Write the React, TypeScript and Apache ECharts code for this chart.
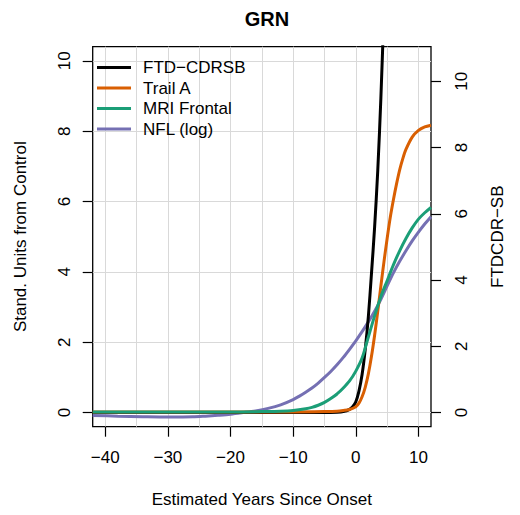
import React, { useEffect, useRef } from "react";
import * as echarts from "echarts";

const FONT = "'Liberation Sans', Arial, Helvetica, sans-serif";

const titleText = "GRN";
const xTitle = "Estimated Years Since Onset";
const yLeftTitle = "Stand. Units from Control";
const yRightTitle = "FTDCDR\u2212SB";

const xTicks = [-40, -30, -20, -10, 0, 10];
const xGridValues = [-40, -35, -30, -25, -20, -15, -10, -5, 0, 5, 10];
const yTicks = [0, 2, 4, 6, 8, 10];

const seriesNames = ["FTD\u2212CDRSB", "Trail A", "MRI Frontal", "NFL (log)"];
const seriesColors = ["#000000", "#D95F02", "#1B9E77", "#7570B3"];

// FTD-CDRSB (right axis)
const cdrX = [-42, -30, -20, -10, -5, -3, -2, -1, -0.5, 0, 0.5, 1, 1.5, 2, 2.5, 3, 3.5, 4, 4.5];
const cdrY = [0, 0, 0, 0, 0.005, 0.01, 0.03, 0.1, 0.18, 0.33, 0.65, 1.15, 1.9, 2.9, 4.2, 5.6, 7.3, 9.5, 12.2];

// Trail A
const trailX = [-42, -30, -20, -10, -5, -3, -2, -1, 0, 0.5, 1, 1.5, 2, 2.5, 3, 3.5, 4, 4.5, 5, 5.5, 6, 6.5, 7, 7.5, 8, 9, 10, 11, 12];
const trailY = [0.02, 0.02, 0.02, 0.02, 0.03, 0.04, 0.06, 0.09, 0.17, 0.27, 0.45, 0.72, 1.1, 1.6, 2.2, 2.88, 3.6, 4.3, 4.95, 5.55, 6.05, 6.5, 6.9, 7.22, 7.48, 7.83, 8.02, 8.12, 8.17];

// MRI Frontal
const mriX = [-42, -30, -20, -15, -12, -10, -8, -7, -6, -5, -4, -3, -2, -1, 0, 1, 2, 3, 4, 5, 6, 7, 8, 9, 10, 11, 12];
const mriY = [0.02, 0.02, 0.02, 0.03, 0.04, 0.06, 0.11, 0.15, 0.21, 0.29, 0.4, 0.53, 0.7, 0.9, 1.18, 1.55, 2.15, 2.75, 3.3, 3.75, 4.2, 4.6, 4.95, 5.25, 5.5, 5.68, 5.83];

// NFL (log)
const nflX = [-42, -38, -34, -30, -26, -24, -22, -20, -18, -16, -14, -12, -10, -9, -8, -7, -6, -5, -4, -3, -2, -1, 0, 1, 2, 3, 4, 5, 6, 7, 8, 9, 10, 11, 12];
const nflY = [-0.08, -0.1, -0.115, -0.125, -0.12, -0.1, -0.075, -0.045, 0.0, 0.05, 0.12, 0.22, 0.37, 0.47, 0.58, 0.7, 0.84, 1.0, 1.17, 1.36, 1.57, 1.8, 2.04, 2.3, 2.58, 2.88, 3.22, 3.6, 3.97, 4.3, 4.6, 4.88, 5.13, 5.36, 5.57];

const pairs = (xs: number[], ys: number[]) => xs.map((x, i) => [x, ys[i]]);
const minus = (v: number) => String(v).replace("-", "\u2212");

export default function App() {
  const ref = useRef<HTMLDivElement>(null);
  useEffect(() => {
    document.body.style.margin = "0";
    if (!ref.current) return;
    const chart = echarts.init(ref.current, null, { renderer: "svg" });
    const labelStyle = { color: "#000", fontSize: 17, fontFamily: FONT };
    const lineSeries = (idx: number, data: number[][], yAxisIndex: number, z: number) => ({
      type: "line",
      name: seriesNames[idx],
      data,
      xAxisIndex: 0,
      yAxisIndex,
      showSymbol: false,
      symbol: "none",
      smooth: 0.3,
      clip: true,
      z,
      lineStyle: { color: seriesColors[idx], width: 3 },
      itemStyle: { color: seriesColors[idx] },
    });
    chart.setOption({
      animation: false,
      backgroundColor: "#fff",
      textStyle: { fontFamily: FONT },
      title: {
        text: titleText,
        left: 262,
        top: 4,
        textAlign: "center",
        textStyle: { fontSize: 20, fontWeight: "bold", color: "#000", fontFamily: FONT },
      },
      legend: {
        data: seriesNames,
        orient: "vertical",
        left: 97,
        top: 59,
        padding: 0,
        itemGap: 3.5,
        itemWidth: 34,
        itemHeight: 3,
        icon: "rect",
        textStyle: { ...labelStyle, padding: [0, 0, 0, 7], lineHeight: 17 },
      },
      grid: {
        left: 92.7,
        right: 89,
        top: 46.7,
        bottom: 88.3,
        show: true,
        borderColor: "#000",
        borderWidth: 1.3,
        backgroundColor: "transparent",
      },
      xAxis: [
        {
          type: "value",
          min: -42,
          max: 12,
          position: "bottom",
          name: xTitle,
          nameLocation: "middle",
          nameGap: 64,
          nameTextStyle: labelStyle,
          axisLine: { show: false, onZero: false },
          axisTick: { show: true, length: 10, customValues: xTicks, lineStyle: { color: "#000", width: 1.2 } },
          axisLabel: { ...labelStyle, customValues: xTicks, margin: 22, formatter: (v: number) => minus(v) },
          splitLine: { show: false },
        },
        {
          type: "value",
          min: -42,
          max: 12,
          position: "top",
          axisLine: { show: false, onZero: false },
          axisTick: { show: false, customValues: xGridValues },
          axisLabel: { show: false, customValues: xGridValues },
          splitLine: { show: true, lineStyle: { color: "#d9d9d9", width: 1 } },
        },
      ],
      yAxis: [
        {
          type: "value",
          min: -0.4,
          max: 10.4,
          position: "left",
          name: yLeftTitle,
          nameLocation: "middle",
          nameGap: 64,
          nameRotate: 90,
          nameTextStyle: labelStyle,
          axisLine: { show: false, onZero: false },
          axisTick: { show: true, length: 10, customValues: yTicks, lineStyle: { color: "#000", width: 1.2 } },
          axisLabel: { ...labelStyle, customValues: yTicks, rotate: 90, margin: 20 },
          splitLine: { show: true, lineStyle: { color: "#d9d9d9", width: 1 } },
        },
        {
          type: "value",
          min: -0.425,
          max: 11.045,
          position: "right",
          name: yRightTitle,
          nameLocation: "middle",
          nameGap: 58,
          nameRotate: 90,
          nameTextStyle: labelStyle,
          axisLine: { show: false, onZero: false },
          axisTick: { show: true, length: 10, customValues: yTicks, lineStyle: { color: "#000", width: 1.2 } },
          axisLabel: { ...labelStyle, customValues: yTicks, rotate: 90, margin: 22 },
          splitLine: { show: false },
        },
      ],
      series: [
        lineSeries(3, pairs(nflX, nflY), 0, 2),
        lineSeries(0, pairs(cdrX, cdrY), 1, 3),
        lineSeries(1, pairs(trailX, trailY), 0, 4),
        lineSeries(2, pairs(mriX, mriY), 0, 5),
      ],
    });
    return () => chart.dispose();
  }, []);
  return <div ref={ref} style={{ width: 520, height: 515 }} />;
}
